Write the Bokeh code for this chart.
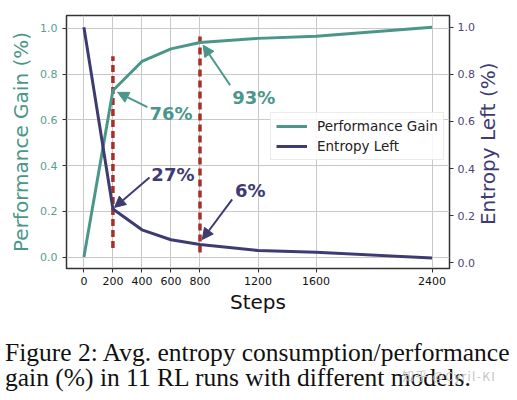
import math
from bokeh.plotting import figure
from bokeh.layouts import column
from bokeh.models import (Range1d, LinearAxis, FixedTicker, NumeralTickFormatter,
                          Arrow, NormalHead, Legend, LegendItem, Div)
from bokeh.core.properties import value
from bokeh.embed import file_html
from bokeh.resources import INLINE

# ---- data ----
steps = [0, 200, 400, 600, 800, 1200, 1600, 2400]
perf_gain = [0.0, 0.728, 0.855, 0.91, 0.938, 0.956, 0.965, 1.005]
entropy_left = [1.0, 0.228, 0.14, 0.098, 0.078, 0.052, 0.045, 0.02]
x_ticks = [0, 200, 400, 600, 800, 1200, 1600, 2400]
y_ticks = [0.0, 0.2, 0.4, 0.6, 0.8, 1.0]

mark_steps = [200, 800]
mark_low = [0.04, 0.02]
mark_high = [0.878, 0.965]

perf_ann_text = ["76%", "93%"]
perf_ann_xy = [(452, 0.629), (1022, 0.699)]
perf_arrow_from = [(438, 0.655), (1008, 0.751)]
perf_arrow_to = [(232, 0.72), (822, 0.926)]

ent_ann_text = ["27%", "6%"]
ent_ann_xy = [(465, 0.375), (1042, 0.307)]
ent_arrow_from = [(452, 0.362), (1022, 0.269)]
ent_arrow_to = [(211, 0.235), (816, 0.099)]

x_title = "Steps"
left_title = "Performance Gain (%)"
right_title = "Entropy Left (%)"
caption = ["Figure 2: Avg. entropy consumption/performance",
           "gain (%) in 11 RL runs with different models."]
watermark = "知乎 @Cyril-KI"

TEAL = "#4a978a"
PURPLE = "#3e3b73"
RED = "#a5302a"
FONT = "DejaVu Sans"

p = figure(width=517, height=341, output_backend="svg", toolbar_location=None,
           x_range=Range1d(-120, 2520), y_range=Range1d(-0.05, 1.056),
           min_border_left=66, min_border_right=68, min_border_top=15,
           min_border_bottom=73, margin=(0, 0, 0, 0))
p.extra_y_ranges = {"ent": Range1d(-0.0242, 1.0497)}

p.outline_line_color = "#333333"
p.outline_line_width = 1.5
p.background_fill_color = "white"
p.border_fill_color = "white"

p.xgrid.grid_line_color = "#c8c8c8"
p.ygrid.grid_line_color = "#c8c8c8"
p.xgrid.grid_line_width = 1
p.ygrid.grid_line_width = 1

def style_axis(ax, color, label_color):
    ax.axis_line_color = None
    ax.major_tick_line_color = "#333333"
    ax.major_tick_line_width = 1
    ax.major_tick_out = 4
    ax.major_tick_in = 0
    ax.minor_tick_line_color = None
    ax.major_label_text_font = FONT
    ax.major_label_text_font_size = "11px"
    ax.major_label_text_color = color
    ax.axis_label_text_font = FONT
    ax.axis_label_text_font_size = "20px"
    ax.axis_label_text_font_style = "normal"
    ax.axis_label_text_color = label_color

xa = p.xaxis[0]
style_axis(xa, "#111111", "#111111")
xa.ticker = FixedTicker(ticks=x_ticks)
xa.axis_label = x_title
xa.major_label_standoff = 4
xa.axis_label_standoff = 2

ya = p.yaxis[0]
style_axis(ya, "#5a9e92", TEAL)
ya.ticker = FixedTicker(ticks=y_ticks)
ya.formatter = NumeralTickFormatter(format="0.0")
ya.axis_label = left_title
ya.major_label_standoff = 5
ya.axis_label_standoff = 4

ra = LinearAxis(y_range_name="ent")
style_axis(ra, "#4a4878", PURPLE)
ra.ticker = FixedTicker(ticks=y_ticks)
ra.formatter = NumeralTickFormatter(format="0.0")
ra.major_label_standoff = 4
p.add_layout(ra, "right")

# right-hand title, reading bottom-to-top like the left one: the single
# rotated label of an extra, tick-less axis (starts at its anchor, reads up)
title_anchor = 0.16
ra2 = LinearAxis(y_range_name="ent", ticker=FixedTicker(ticks=[title_anchor]),
                 major_label_overrides={title_anchor: right_title},
                 major_label_orientation=math.pi / 2)
ra2.axis_line_color = None
ra2.major_tick_line_color = None
ra2.minor_tick_line_color = None
ra2.major_tick_out = 0
ra2.major_tick_in = 0
ra2.major_label_standoff = 11
ra2.major_label_text_font = FONT
ra2.major_label_text_font_size = "20px"
ra2.major_label_text_color = PURPLE
p.add_layout(ra2, "right")

# red dashed markers
p.segment(x0=mark_steps, y0=mark_low, x1=mark_steps, y1=mark_high,
          line_color=RED, line_width=3.5, line_dash="7 4")

# lines
r_perf = p.line(steps, perf_gain, line_color=TEAL, line_width=3)
r_ent = p.line(steps, entropy_left, line_color=PURPLE, line_width=3,
               y_range_name="ent")

for txt, (tx, ty), (fx, fy), (hx, hy) in zip(perf_ann_text, perf_ann_xy,
                                             perf_arrow_from, perf_arrow_to):
    p.add_layout(Arrow(end=NormalHead(size=11, fill_color=TEAL, line_color=TEAL),
                       x_start=fx, y_start=fy, x_end=hx, y_end=hy,
                       line_color=TEAL, line_width=2))
    p.text(x=[tx], y=[ty], text=[txt], text_font=value(FONT),
           text_font_style="bold", text_font_size="18px", text_color=TEAL,
           text_align="left", text_baseline="middle")

for txt, (tx, ty), (fx, fy), (hx, hy) in zip(ent_ann_text, ent_ann_xy,
                                             ent_arrow_from, ent_arrow_to):
    p.add_layout(Arrow(end=NormalHead(size=11, fill_color=PURPLE, line_color=PURPLE),
                       x_start=fx, y_start=fy, x_end=hx, y_end=hy,
                       line_color=PURPLE, line_width=2, y_range_name="ent"))
    p.text(x=[tx], y=[ty], text=[txt], text_font=value(FONT),
           text_font_style="bold", text_font_size="18px", text_color=PURPLE,
           text_align="left", text_baseline="middle", y_range_name="ent")

legend = Legend(items=[LegendItem(label="Performance Gain", renderers=[r_perf]),
                       LegendItem(label="Entropy Left", renderers=[r_ent])],
                location=(204, 108))
legend.margin = 0
legend.padding = 5
legend.spacing = 4
legend.glyph_width = 31
legend.glyph_height = 14
legend.label_standoff = 10
legend.label_text_font = FONT
legend.label_text_font_size = "13.5px"
legend.label_text_color = "#222222"
legend.border_line_color = "#d8d8d8"
legend.border_line_width = 1
legend.background_fill_alpha = 0.85
p.add_layout(legend)

# caption below the chart, with the faint watermark over its end
cap_html = (
    '<div style="position:relative; margin:0; padding:0 0 0 5px; '
    'font-family:\'Liberation Serif\', serif; font-size:25.5px; '
    'line-height:24.5px; color:#111111; white-space:nowrap;">'
    + caption[0] + '<br>' + caption[1] +
    '<span style="position:absolute; left:402px; top:29px; '
    'font-family:\'Noto Sans CJK SC\', sans-serif; font-size:12px; '
    'line-height:12px; letter-spacing:1.3px; color:#c4c4c4;">'
    + watermark + '</span></div>'
)
cap_div = Div(text=cap_html, width=517, height=59, margin=(0, 0, 0, 0))

layout = column(p, cap_div, spacing=0)
open("out.html", "w").write(file_html(layout, INLINE))
